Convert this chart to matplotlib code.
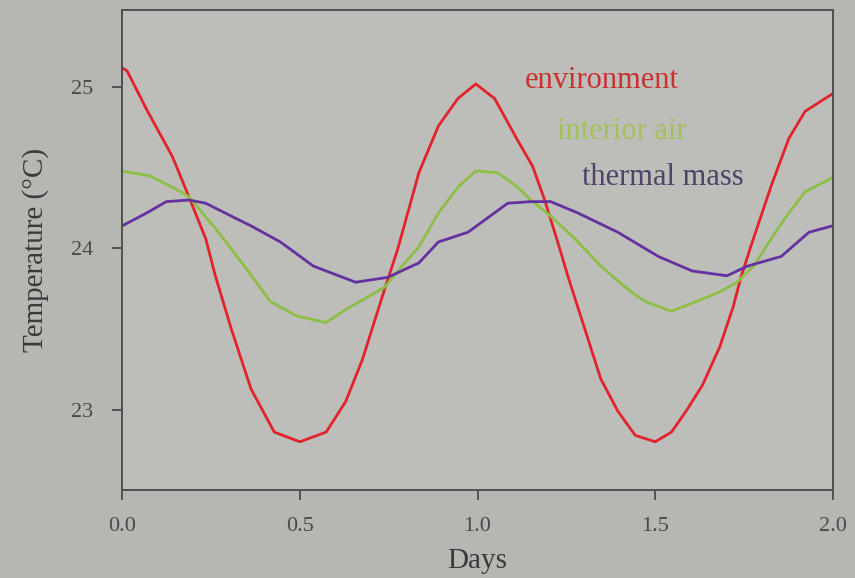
import matplotlib
matplotlib.use("Agg")
import matplotlib.pyplot as plt

# values (days, degrees C)
env_days = [0.0, 0.014, 0.069, 0.141, 0.182, 0.235, 0.262, 0.307, 0.362, 0.428, 0.5,
            0.574, 0.629, 0.676, 0.739, 0.776, 0.835, 0.890, 0.945, 0.995, 1.048,
            1.113, 1.155, 1.189, 1.234, 1.254, 1.302, 1.347, 1.395, 1.444, 1.5,
            1.546, 1.587, 1.633, 1.682, 1.720, 1.740, 1.769, 1.827, 1.876, 1.922, 2.0]
env_temp = [25.12, 25.10, 24.86, 24.57, 24.35, 24.06, 23.83, 23.50, 23.13, 22.86, 22.80,
            22.86, 23.05, 23.31, 23.75, 24.00, 24.47, 24.76, 24.93, 25.02, 24.93,
            24.67, 24.51, 24.30, 23.98, 23.83, 23.50, 23.19, 22.99, 22.84, 22.80,
            22.86, 22.99, 23.15, 23.39, 23.64, 23.81, 24.01, 24.39, 24.68, 24.85, 24.96]

air_days = [0.0, 0.077, 0.141, 0.188, 0.271, 0.354, 0.417, 0.492, 0.574, 0.629, 0.692,
            0.739, 0.776, 0.835, 0.890, 0.945, 0.995, 1.056, 1.113, 1.150, 1.206,
            1.274, 1.347, 1.432, 1.472, 1.546, 1.616, 1.682, 1.731, 1.777, 1.827,
            1.876, 1.922, 2.0]
air_temp = [24.48, 24.45, 24.38, 24.32, 24.10, 23.86, 23.67, 23.58, 23.54, 23.62, 23.70,
            23.76, 23.86, 24.01, 24.22, 24.38, 24.48, 24.47, 24.38, 24.30, 24.20,
            24.06, 23.89, 23.73, 23.67, 23.61, 23.67, 23.73, 23.79, 23.89, 24.06,
            24.22, 24.35, 24.44]

mass_days = [0.0, 0.069, 0.124, 0.188, 0.235, 0.307, 0.362, 0.445, 0.538, 0.657, 0.747,
             0.835, 0.890, 0.973, 1.085, 1.150, 1.206, 1.282, 1.395, 1.509, 1.604,
             1.702, 1.760, 1.855, 1.933, 2.0]
mass_temp = [24.14, 24.22, 24.29, 24.30, 24.28, 24.20, 24.14, 24.04, 23.89, 23.79, 23.82,
             23.91, 24.04, 24.10, 24.28, 24.29, 24.29, 24.22, 24.10, 23.95, 23.86,
             23.83, 23.89, 23.95, 24.10, 24.14]

x_ticks = [0.0, 0.5, 1.0, 1.5, 2.0]
y_ticks = [23, 24, 25]

plt.rcParams['font.family'] = ['Liberation Serif', 'DejaVu Serif']

fig = plt.figure(figsize=(8.55, 5.78), dpi=100, facecolor='#b6b7b2')
ax = fig.add_axes([0.143, 0.152, 0.831, 0.831], facecolor='#bdbeb9')

ax.plot(env_days, env_temp, color='#e3222b', lw=2)
ax.plot(air_days, air_temp, color='#8dbf45', lw=2)
ax.plot(mass_days, mass_temp, color='#6530a0', lw=2)

ax.set_xlim(0, 2.0)
ax.set_ylim(22.5, 25.48)
ax.set_xticks(x_ticks)
ax.set_xticklabels([f"{v:.1f}" for v in x_ticks])
ax.set_yticks(y_ticks)
ax.tick_params(direction='out', length=7, width=1.3, colors='#4a4a4a', labelsize=16)
ax.tick_params(axis='x', pad=12)
ax.tick_params(axis='y', pad=14)
for s in ax.spines.values():
    s.set_color('#505050')
    s.set_linewidth(1.4)

ax.set_xlabel('Days', fontsize=21, color='#3a3a3a', labelpad=9)
ax.set_ylabel('Temperature (°C)', fontsize=21, color='#3a3a3a', labelpad=16)

# labels inside the plot
ax.text(0.567, 0.852, 'environment', transform=ax.transAxes, color='#c9302f',
        fontsize=22, va='center')
ax.text(0.612, 0.746, 'interior air', transform=ax.transAxes, color='#a2c15a',
        fontsize=22, va='center')
ax.text(0.647, 0.65, 'thermal mass', transform=ax.transAxes, color='#4e4468',
        fontsize=22, va='center')

fig.savefig('out.png', dpi=100, facecolor=fig.get_facecolor())
